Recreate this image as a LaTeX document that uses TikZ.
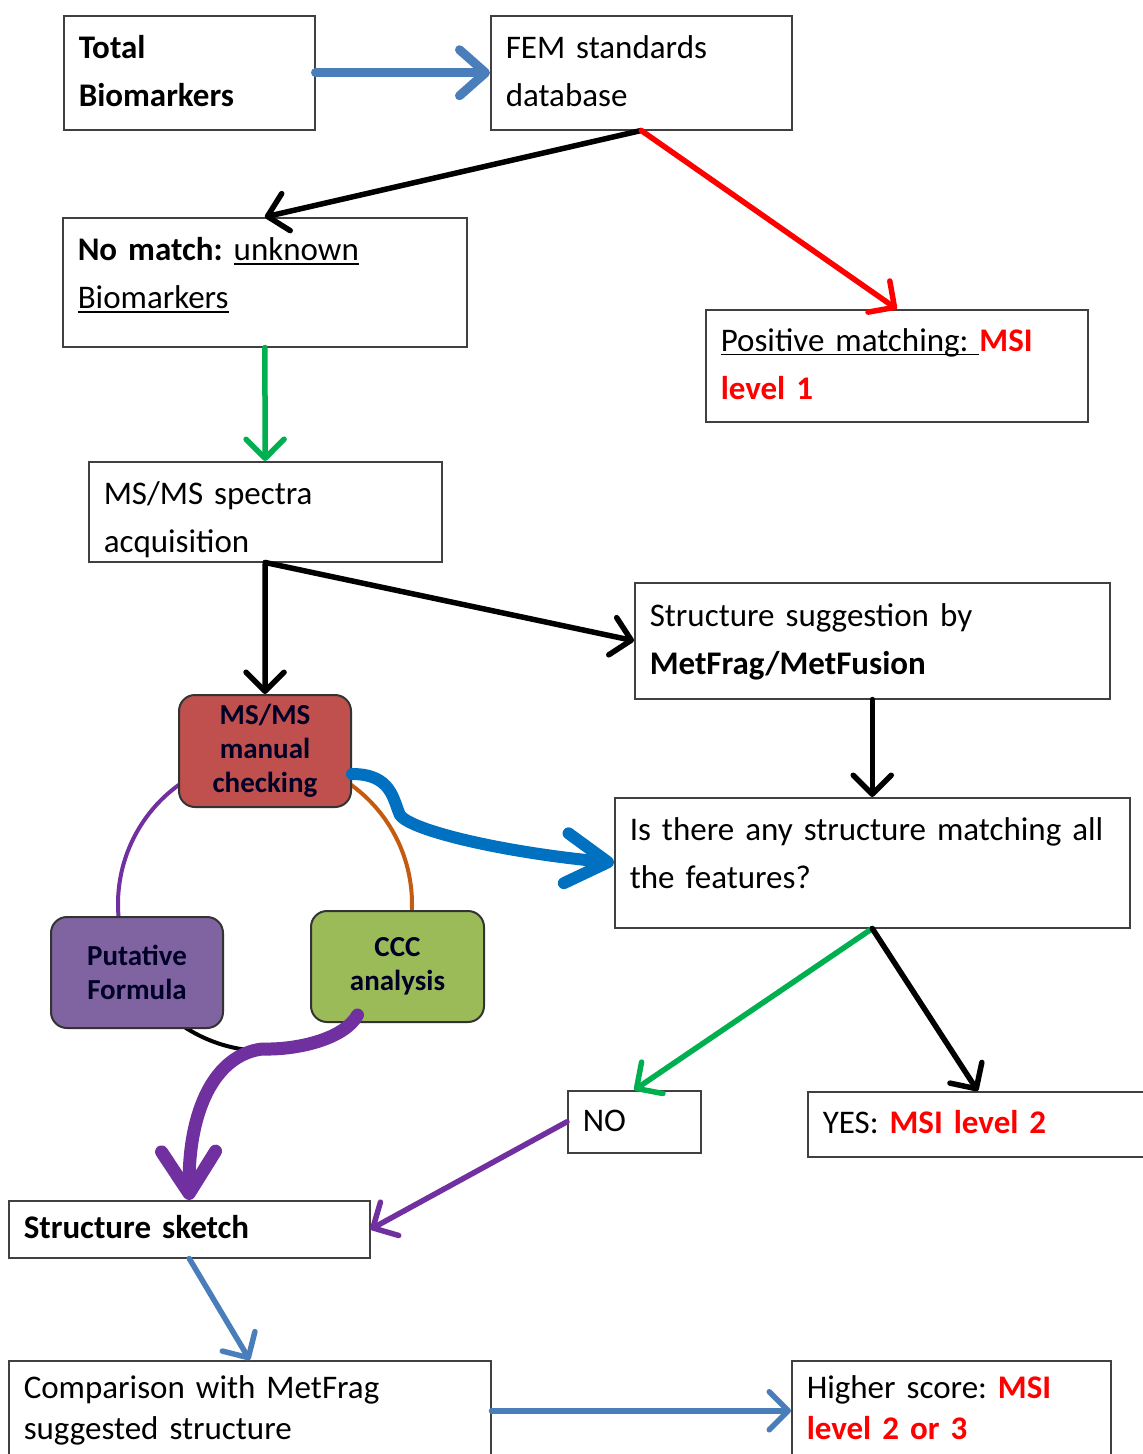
\documentclass[tikz,border=0pt]{standalone}
\usepackage{fontspec}
\setmainfont{Carlito}
\usepackage{tikz}
\usetikzlibrary{arrows.meta, calc, positioning}

\definecolor{flowblue}{HTML}{4A7EBB}
\definecolor{loopblue}{HTML}{0070C0}
\definecolor{msired}{HTML}{FF0000}
\definecolor{okgreen}{HTML}{00B050}
\definecolor{sketchpurple}{HTML}{7030A0}
\definecolor{ringbrown}{HTML}{C55A11}
\definecolor{checkred}{HTML}{C0504D}
\definecolor{formulapurple}{HTML}{8064A2}
\definecolor{cccgreen}{HTML}{9BBB59}

\frenchspacing
\newcommand{\msi}[1]{\textbf{\color{msired}#1}}
\newcommand{\undr}[1]{\leavevmode\setbox0\hbox{#1}\rlap{\rule[-4pt]{\wd0}{1.8pt}}\box0}

\tikzset{
    flowbox/.style={draw=black!75, line width=1.5pt, anchor=north west, align=left,
        inner xsep=15pt, inner ysep=0pt, font=\fontsize{33}{48}\selectfont,
        execute at begin node=\strut, execute at end node=\strut},
    roundbox/.style={draw=black!80, line width=2pt, rounded corners=16pt, anchor=north west,
        align=center, inner sep=0pt, font=\bfseries\fontsize{29}{34}\selectfont, text=black!85!blue},
    link/.style={line width=5.5pt, line cap=round, -{Straight Barb[length=19pt, width=38pt, round]}}
}

\begin{document}
\begin{tikzpicture}[x=1pt, y=-1pt]
    \clip (0,0) rectangle (1143,1454);

    % 三个检查框后面的圆环
    \coordinate (ring) at (265,904);
    \draw[sketchpurple, line width=4pt] (ring) ++(120:147pt) arc[start angle=120, end angle=190, radius=147pt];
    \draw[ringbrown, line width=4pt] (ring) ++(-5:147pt) arc[start angle=-5, end angle=60, radius=147pt];
    \draw[black, line width=4pt] (ring) ++(230:147pt) arc[start angle=230, end angle=310, radius=147pt];

    % 上半部分
    \node[flowbox, text width=221pt, minimum height=114pt] (total) at (63,15) {\textbf{Total}\\\textbf{Biomarkers}};
    \node[flowbox, text width=271pt, minimum height=114pt] (fem) at (490,15) {FEM standards\\database};
    \node[flowbox, text width=374pt, minimum height=129pt] (nomatch) at (62,217) {\textbf{No match:} \undr{unknown}\\\undr{Biomarkers}\rule[-29pt]{0pt}{29pt}};
    \node[flowbox, text width=352pt, minimum height=112pt] (positive) at (705,309) {\undr{Positive matching:\ }\msi{MSI}\\\msi{level 1}};
    \node[flowbox, text width=323pt, minimum height=100pt, inner ysep=-5pt] (spectra) at (88,461) {\rule{0pt}{47.6pt}MS/MS spectra\\acquisition};
    \node[flowbox, text width=445pt, minimum height=116pt] (suggest) at (634,582) {Structure suggestion by\\\textbf{MetFrag/MetFusion}};
    \node[flowbox, text width=485pt, minimum height=130pt] (feat) at (614,797) {Is there any structure matching all\\the features?\rule[-30pt]{0pt}{30pt}};

    % 人工检查
    \node[roundbox, fill=checkred, text width=160pt, minimum width=172pt, minimum height=112pt] (check) at (178,694) {MS/MS\\manual\\checking};
    \node[roundbox, fill=formulapurple, text width=160pt, minimum width=172pt, minimum height=111pt] (formula) at (50,916) {Putative\\Formula};
    \node[roundbox, fill=cccgreen, text width=160pt, minimum width=173pt, minimum height=111pt] (ccc) at (310,910) {CCC\\analysis};

    % 下半部分
    \node[flowbox, text width=103pt, minimum height=62pt] (no) at (567,1090) {NO};
    \node[flowbox, text width=310pt, minimum height=65pt] (yes) at (807,1091) {YES: \msi{MSI level 2}};
    \node[flowbox, text width=331pt, minimum height=57pt] (sketch) at (8,1200) {\textbf{Structure sketch}};
    \node[flowbox, text width=452pt, minimum height=100pt, font=\fontsize{33}{41}\selectfont] (compare) at (8,1360) {Comparison with MetFrag\\suggested structure};
    \node[flowbox, text width=289pt, minimum height=100pt, font=\fontsize{33}{41}\selectfont] (higher) at (791,1360) {Higher score: \msi{MSI}\\\msi{level 2 or 3}};

    % 箭头
    \draw[flowblue, line width=9pt, line cap=round, -{Straight Barb[length=26pt, width=46pt, round]}] (total) -- (fem);
    \draw[link] (fem.south) -- (nomatch.north);
    \draw[link, msired] (fem.south) -- (positive.north);
    \draw[link, okgreen] (nomatch) -- (spectra);
    \draw[link] (spectra.south) -- (check.north);
    \draw[link] (spectra.south) -- (suggest.west);
    \draw[link] (suggest) -- (feat);
    \draw[link, okgreen] (feat.south) -- (no.north);
    \draw[link] (feat.south) -- (yes.north);
    \draw[link, sketchpurple] (no.west) -- (sketch.east);
    \draw[link, flowblue] (sketch.south) -- (compare.north);
    \draw[link, flowblue] (compare.east) -- (higher.west);

    % 粗的弯箭头
    \draw[loopblue, line width=12pt, line cap=round, -{Straight Barb[length=42pt, width=50pt, round]}]
        ([yshift=-23pt]check.east) .. controls (392,774) and (393,800) .. (400,815)
        .. controls (410,830) and (500,852) .. (feat.west);
    \draw[sketchpurple, line width=13pt, line cap=round, -{Straight Barb[length=42pt, width=54pt, round]}]
        ([xshift=-40pt, yshift=8pt]ccc.south) .. controls (345,1038) and (300,1050) .. (262,1049)
        .. controls (215,1055) and (188,1110) .. (sketch.north);
\end{tikzpicture}
\end{document}
